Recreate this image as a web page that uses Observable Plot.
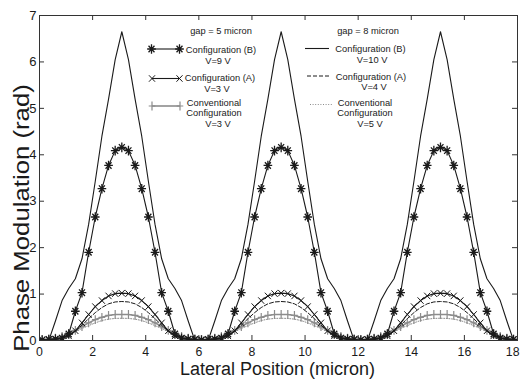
<!DOCTYPE html>
<html>
<head>
<meta charset="utf-8">
<script src="https://cdn.jsdelivr.net/npm/d3@7"></script>
<script src="https://cdn.jsdelivr.net/npm/@observablehq/plot@0.6"></script>
<style>
  html, body { margin: 0; padding: 0; background: #fff; }
  #chart { width: 520px; height: 379px; }
</style>
</head>
<body>
<div id="chart"></div>
<script>
// ---- data ----
const xPos = [-0.15, 0.1, 0.35, 0.6, 0.85, 1.1, 1.35, 1.6, 1.85, 2.1, 2.35, 2.6, 2.85, 3.1,
  3.35, 3.6, 3.85, 4.1, 4.35, 4.6, 4.85, 5.1, 5.35, 5.6, 5.85, 6.1,
  6.35, 6.6, 6.85, 7.1, 7.35, 7.6, 7.85, 8.1, 8.35, 8.6, 8.85, 9.1,
  9.35, 9.6, 9.85, 10.1, 10.35, 10.6, 10.85, 11.1, 11.35, 11.6, 11.85, 12.1,
  12.35, 12.6, 12.85, 13.1, 13.35, 13.6, 13.85, 14.1, 14.35, 14.6, 14.85, 15.1,
  15.35, 15.6, 15.85, 16.1, 16.35, 16.6, 16.85, 17.1, 17.35, 17.6, 17.85, 18.1];

// gap = 8 micron, Configuration (B), V=10 V (solid)
const confB10 = [0,
  0, 0, 0.42, 0.86, 1.12, 1.33, 1.76, 2.5, 3.43, 4.4, 5.2, 6.05, 6.65,
  6.05, 5.2, 4.4, 3.43, 2.5, 1.76, 1.33, 1.12, 0.86, 0.42, 0, 0,
  0, 0.42, 0.86, 1.12, 1.33, 1.76, 2.5, 3.43, 4.4, 5.2, 6.05, 6.65,
  6.05, 5.2, 4.4, 3.43, 2.5, 1.76, 1.33, 1.12, 0.86, 0.42, 0, 0,
  0, 0.42, 0.86, 1.12, 1.33, 1.76, 2.5, 3.43, 4.4, 5.2, 6.05, 6.65,
  6.05, 5.2, 4.4, 3.43, 2.5, 1.76, 1.33, 1.12, 0.86, 0.42, 0, 0];

// gap = 5 micron, Configuration (B), V=9 V (asterisks)
const confB9 = [0.02,
  0.01, 0.02, 0.03, 0.05, 0.14, 0.63, 1.03, 1.9, 2.66, 3.27, 3.77, 4.09, 4.16,
  4.09, 3.77, 3.27, 2.66, 1.9, 1.03, 0.63, 0.14, 0.05, 0.03, 0.02, 0.01,
  0.02, 0.03, 0.05, 0.14, 0.63, 1.03, 1.9, 2.66, 3.27, 3.77, 4.09, 4.16,
  4.09, 3.77, 3.27, 2.66, 1.9, 1.03, 0.63, 0.14, 0.05, 0.03, 0.02, 0.01,
  0.02, 0.03, 0.05, 0.14, 0.63, 1.03, 1.9, 2.66, 3.27, 3.77, 4.09, 4.16,
  4.09, 3.77, 3.27, 2.66, 1.9, 1.03, 0.63, 0.14, 0.05, 0.03, 0.02, 0.01];

// gap = 5 micron, Configuration (A), V=3 V (x markers)
const confA3 = [0.02,
  0.01, 0.02, 0.03, 0.05, 0.1, 0.21, 0.38, 0.56, 0.73, 0.86, 0.96, 1.01, 1.02,
  1.01, 0.96, 0.86, 0.73, 0.56, 0.38, 0.21, 0.1, 0.05, 0.03, 0.02, 0.01,
  0.02, 0.03, 0.05, 0.1, 0.21, 0.38, 0.56, 0.73, 0.86, 0.96, 1.01, 1.02,
  1.01, 0.96, 0.86, 0.73, 0.56, 0.38, 0.21, 0.1, 0.05, 0.03, 0.02, 0.01,
  0.02, 0.03, 0.05, 0.1, 0.21, 0.38, 0.56, 0.73, 0.86, 0.96, 1.01, 1.02,
  1.01, 0.96, 0.86, 0.73, 0.56, 0.38, 0.21, 0.1, 0.05, 0.03, 0.02, 0.01];

// gap = 8 micron, Configuration (A), V=4 V (dashed)
const confA4 = [0.02,
  0.02, 0.02, 0.03, 0.06, 0.11, 0.2, 0.33, 0.47, 0.6, 0.71, 0.79, 0.83, 0.84,
  0.83, 0.79, 0.71, 0.6, 0.47, 0.33, 0.2, 0.11, 0.06, 0.03, 0.02, 0.02,
  0.02, 0.03, 0.06, 0.11, 0.2, 0.33, 0.47, 0.6, 0.71, 0.79, 0.83, 0.84,
  0.83, 0.79, 0.71, 0.6, 0.47, 0.33, 0.2, 0.11, 0.06, 0.03, 0.02, 0.02,
  0.02, 0.03, 0.06, 0.11, 0.2, 0.33, 0.47, 0.6, 0.71, 0.79, 0.83, 0.84,
  0.83, 0.79, 0.71, 0.6, 0.47, 0.33, 0.2, 0.11, 0.06, 0.03, 0.02, 0.02];

// gap = 5 micron, Conventional Configuration, V=3 V (plus markers, grey)
const conv3 = [0.03,
  0.02, 0.03, 0.05, 0.09, 0.15, 0.22, 0.3, 0.38, 0.45, 0.5, 0.54, 0.56, 0.56,
  0.56, 0.54, 0.5, 0.45, 0.38, 0.3, 0.22, 0.15, 0.09, 0.05, 0.03, 0.02,
  0.03, 0.05, 0.09, 0.15, 0.22, 0.3, 0.38, 0.45, 0.5, 0.54, 0.56, 0.56,
  0.56, 0.54, 0.5, 0.45, 0.38, 0.3, 0.22, 0.15, 0.09, 0.05, 0.03, 0.02,
  0.03, 0.05, 0.09, 0.15, 0.22, 0.3, 0.38, 0.45, 0.5, 0.54, 0.56, 0.56,
  0.56, 0.54, 0.5, 0.45, 0.38, 0.3, 0.22, 0.15, 0.09, 0.05, 0.03, 0.02];

// gap = 8 micron, Conventional Configuration, V=5 V (dotted, grey)
const conv5 = [0.03,
  0.02, 0.03, 0.05, 0.08, 0.13, 0.19, 0.26, 0.32, 0.38, 0.43, 0.46, 0.475, 0.48,
  0.475, 0.46, 0.43, 0.38, 0.32, 0.26, 0.19, 0.13, 0.08, 0.05, 0.03, 0.02,
  0.03, 0.05, 0.08, 0.13, 0.19, 0.26, 0.32, 0.38, 0.43, 0.46, 0.475, 0.48,
  0.475, 0.46, 0.43, 0.38, 0.32, 0.26, 0.19, 0.13, 0.08, 0.05, 0.03, 0.02,
  0.03, 0.05, 0.08, 0.13, 0.19, 0.26, 0.32, 0.38, 0.43, 0.46, 0.475, 0.48,
  0.475, 0.46, 0.43, 0.38, 0.32, 0.26, 0.19, 0.13, 0.08, 0.05, 0.03, 0.02];

const xTicks = [0, 2, 4, 6, 8, 10, 12, 14, 16, 18];
const yTicks = [0, 1, 2, 3, 4, 5, 6, 7];
const xLabel = "Lateral Position (micron)";
const yLabel = "Phase Modulation (rad)";
const legend1Title = "gap = 5 micron";
const legend2Title = "gap = 8 micron";

// ---- build tables ----
const rows = (ys) => xPos.map((x, i) => ({x, y: ys[i]}));
const dB10 = rows(confB10), dB9 = rows(confB9), dA3 = rows(confA3),
      dA4 = rows(confA4), dC3 = rows(conv3), dC5 = rows(conv5);

const W = 520, H = 379, mL = 39, mR = 3, mT = 15, mB = 39;
const innerW = W - mL - mR, innerH = H - mT - mB;
const FONT = "Liberation Sans, Arial, Helvetica, sans-serif";
const BLACK = "#1a1a1a", GREY = "#8c8c8c";

// marker shapes (MATLAB-like, slightly taller than wide as in the reference)
const star8 = {draw(ctx, size) {
  const r = Math.sqrt(size / Math.PI), rx = r * 0.9, d = r * 0.68, dx = r * 0.62;
  ctx.moveTo(-rx, 0); ctx.lineTo(rx, 0);
  ctx.moveTo(0, -r); ctx.lineTo(0, r);
  ctx.moveTo(-dx, -d); ctx.lineTo(dx, d);
  ctx.moveTo(-dx, d); ctx.lineTo(dx, -d);
}};
const times2 = {draw(ctx, size) {
  const r = Math.sqrt(size / Math.PI), rx = r * 0.8, ry = r * 0.85;
  ctx.moveTo(-rx, -ry); ctx.lineTo(rx, ry);
  ctx.moveTo(-rx, ry); ctx.lineTo(rx, -ry);
}};
const plus2 = {draw(ctx, size) {
  const r = Math.sqrt(size / Math.PI), rx = r * 0.75;
  ctx.moveTo(-rx, 0); ctx.lineTo(rx, 0);
  ctx.moveTo(0, -r); ctx.lineTo(0, r);
}};
const rStar = 4.8, rTimes = 3.8, rPlus = 4.4;

const plot = Plot.plot({
  width: W, height: H,
  marginLeft: mL, marginRight: mR, marginTop: mT, marginBottom: mB,
  style: {fontFamily: FONT, background: "#fff", color: BLACK},
  x: {domain: [0, 18], label: null},
  y: {domain: [0, 7], label: null},
  marks: [
    Plot.line(dC5, {x: "x", y: "y", stroke: GREY, strokeWidth: 1, strokeDasharray: "1,1.6", clip: true}),
    Plot.line(dC3, {x: "x", y: "y", stroke: GREY, strokeWidth: 1.6, clip: true}),
    Plot.dot(dC3, {x: "x", y: "y", symbol: plus2, r: rPlus, stroke: GREY, strokeWidth: 1.2, clip: true}),
    Plot.line(dA4, {x: "x", y: "y", stroke: BLACK, strokeWidth: 1, strokeDasharray: "4,2", clip: true}),
    Plot.line(dA3, {x: "x", y: "y", stroke: BLACK, strokeWidth: 1.1, clip: true}),
    Plot.dot(dA3, {x: "x", y: "y", symbol: times2, r: rTimes, stroke: BLACK, strokeWidth: 1, clip: true}),
    Plot.line(dB9, {x: "x", y: "y", stroke: BLACK, strokeWidth: 1.1, clip: true}),
    Plot.dot(dB9, {x: "x", y: "y", symbol: star8, r: rStar, stroke: BLACK, strokeWidth: 1.3, clip: true}),
    Plot.line(dB10, {x: "x", y: "y", stroke: BLACK, strokeWidth: 1.1, clip: true}),
    // box & inward ticks
    Plot.frame({stroke: "#333", strokeWidth: 1}),
    Plot.tickX(xTicks, {x: d => d, insetTop: innerH - 5, stroke: "#333"}),
    Plot.tickX(xTicks, {x: d => d, insetBottom: innerH - 5, stroke: "#333"}),
    Plot.tickY(yTicks, {y: d => d, insetRight: innerW - 5, stroke: "#333"}),
    Plot.tickY(yTicks, {y: d => d, insetLeft: innerW - 5, stroke: "#333"}),
    Plot.axisX(xTicks, {tickSize: 0, tickPadding: 6.5, fontSize: 12.3, label: null}),
    Plot.axisY(yTicks, {tickSize: 0, tickPadding: 3, fontSize: 13, label: null})
  ]
});
document.getElementById("chart").appendChild(plot);

const svg = d3.select(plot);
// last x tick label sits against the right edge: keep it inside the picture
svg.selectAll("text").filter(function() { return this.textContent.trim() === "18"; })
  .attr("text-anchor", "end").attr("dx", 2);

// ---- axis titles & legend (layout only) ----
function txt(x, y, s, size, anchor = "middle", rot = false, S = 1) {
  svg.append("text")
    .attr("transform", `translate(${x},${y}) scale(1,${S})` + (rot ? " rotate(-90)" : ""))
    .attr("text-anchor", anchor)
    .attr("font-family", FONT)
    .attr("font-size", size)
    .attr("fill", BLACK)
    .text(s);
}
txt(277.5, 375, xLabel, 18);
txt(29, 218, yLabel, 23, "middle", true, 1.12);

const sym = (type, r) => d3.symbol(type, Math.PI * r * r)();
function legLine(x1, x2, y, opts) {
  svg.append("line").attr("x1", x1).attr("x2", x2).attr("y1", y).attr("y2", y)
    .attr("stroke", opts.stroke).attr("stroke-width", opts.width || 1.1)
    .attr("stroke-dasharray", opts.dash || null);
  if (opts.symbol) {
    for (const x of [x1, x2]) {
      svg.append("path").attr("d", sym(opts.symbol, opts.r))
        .attr("transform", `translate(${x},${y})`)
        .attr("fill", "none").attr("stroke", opts.stroke).attr("stroke-width", opts.sw || 1.1);
    }
  }
}
const LF = 9.3;
// block 1 : gap = 5 micron
txt(221, 34, legend1Title, LF);
legLine(151.5, 179.5, 49, {stroke: BLACK, symbol: star8, r: rStar, sw: 1.3});
txt(221, 52.8, "Configuration (B)", LF);
txt(218, 63.5, "V=9 V", LF);
legLine(152, 179.5, 78.5, {stroke: BLACK, symbol: times2, r: rTimes, sw: 1});
txt(220, 81, "Configuration (A)", LF);
txt(217, 91.7, "V=3 V", LF);
legLine(152, 180, 106, {stroke: GREY, width: 1.6, symbol: plus2, r: rPlus, sw: 1.2});
txt(214, 105.5, "Conventional", LF);
txt(214, 116.3, "Configuration", LF);
txt(218, 127.1, "V=3 V", LF);
// block 2 : gap = 8 micron
txt(368, 33.5, legend2Title, LF);
legLine(305, 329, 48.5, {stroke: BLACK});
txt(370.5, 52.2, "Configuration (B)", LF);
txt(372, 62.9, "V=10 V", LF);
legLine(307, 329, 76, {stroke: BLACK, width: 1, dash: "4,2"});
txt(371, 79.6, "Configuration (A)", LF);
txt(374, 90.3, "V=4 V", LF);
legLine(310, 332, 104.5, {stroke: GREY, width: 1, dash: "1,1.6"});
txt(365, 105.5, "Conventional", LF);
txt(365, 116.3, "Configuration", LF);
txt(370, 127.1, "V=5 V", LF);
</script>
</body>
</html>
